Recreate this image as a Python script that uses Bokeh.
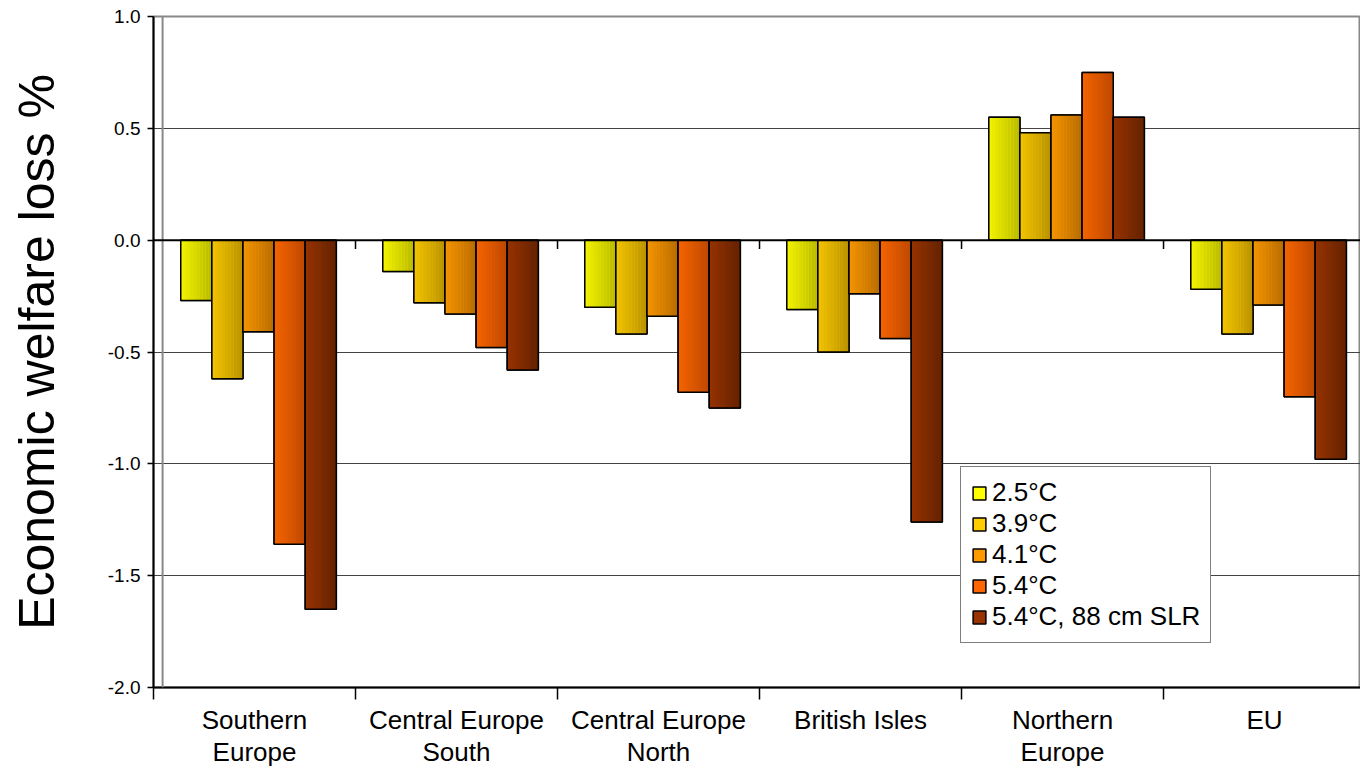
import numpy as np
from bokeh.plotting import figure
from bokeh.models import (Range1d, FixedTicker, Span, Legend, LegendItem,
                          PrintfTickFormatter, ColumnDataSource)
from bokeh.embed import file_html
from bokeh.resources import INLINE

# ---------------- data ----------------
regions = ["Southern Europe", "Central Europe South", "Central Europe North",
           "British Isles", "Northern Europe", "EU"]
region_labels = ["Southern\nEurope", "Central Europe\nSouth", "Central Europe\nNorth",
                 "British Isles", "Northern\nEurope", "EU"]
series_names = ["2.5°C", "3.9°C", "4.1°C", "5.4°C", "5.4°C, 88 cm SLR"]
v_25 = [-0.27, -0.14, -0.30, -0.31, 0.55, -0.22]
v_39 = [-0.62, -0.28, -0.42, -0.50, 0.48, -0.42]
v_41 = [-0.41, -0.33, -0.34, -0.24, 0.56, -0.29]
v_54 = [-1.36, -0.48, -0.68, -0.44, 0.75, -0.70]
v_54_slr = [-1.65, -0.58, -0.75, -1.26, 0.55, -0.98]
y_ticks = [-2.0, -1.5, -1.0, -0.5, 0.0, 0.5, 1.0]

series_values = [v_25, v_39, v_41, v_54, v_54_slr]
legend_colors = ["#FFFF00", "#FFCC00", "#FF9900", "#FF6600", "#993300"]
grad_left = [(244, 244, 0), (244, 196, 0), (244, 148, 0), (244, 100, 0), (150, 50, 0)]
grad_right = [(184, 184, 0), (184, 146, 0), (184, 108, 0), (190, 72, 0), (100, 34, 0)]

FONT = "Liberation Sans"

n_reg = len(regions)
centers = np.arange(n_reg) + 0.5
boundaries = list(np.arange(n_reg + 1).astype(float))
bar_w = 0.154
shift = 0.02

p = figure(width=1360, height=769, output_backend="svg", toolbar_location=None,
           x_range=Range1d(0, 5.975), y_range=Range1d(-2.0, 1.0),
           min_border_top=16, min_border_right=0, min_border_left=153,
           min_border_bottom=79,
           background_fill_color="white", border_fill_color="white")

p.outline_line_color = "#888888"
p.outline_line_width = 2

# grid
p.xgrid.grid_line_color = None
p.ygrid.ticker = FixedTicker(ticks=y_ticks)
p.ygrid.grid_line_color = "#444444"
p.ygrid.grid_line_width = 1

# back wall edge
p.add_layout(Span(location=0.045, dimension="height", line_color="#888888", line_width=2))

legend_items = []
n_strips = 10
for k, (vals, name) in enumerate(zip(series_values, series_names)):
    xs = centers + shift + (k - 2) * bar_w
    src = ColumnDataSource(dict(x=xs, top=vals))
    base = p.vbar(x="x", top="top", bottom=0, width=bar_w, source=src,
                  fill_color=legend_colors[k], line_color="black", line_width=1.5)
    legend_items.append(LegendItem(label=name, renderers=[base]))
    # gradient strips
    for j in range(n_strips):
        t = (j + 0.5) / n_strips
        c = tuple(int(round(grad_left[k][i] * (1 - t) + grad_right[k][i] * t)) for i in range(3))
        sx = xs - bar_w / 2 + (j + 0.5) * bar_w / n_strips
        p.vbar(x=sx, top=vals, bottom=0, width=bar_w / n_strips * 1.05,
               fill_color="#%02x%02x%02x" % c, line_color=None)
    p.vbar(x="x", top="top", bottom=0, width=bar_w, source=src,
           fill_color=None, line_color="black", line_width=1.5)

# zero line and its small ticks
p.add_layout(Span(location=0, dimension="width", line_color="black", line_width=2))
p.segment(x0=boundaries[1:], y0=[0] * n_reg, x1=boundaries[1:], y1=[-0.04] * n_reg,
          line_color="black", line_width=1.5)

# axes
xa = p.xaxis[0]
xa.ticker = FixedTicker(ticks=list(centers), minor_ticks=boundaries)
xa.major_label_overrides = {float(c): lab for c, lab in zip(centers, region_labels)}
xa.major_tick_line_color = None
xa.major_tick_out = 12
xa.major_tick_in = 0
xa.minor_tick_line_color = "black"
xa.minor_tick_out = 12
xa.minor_tick_in = 0
xa.minor_tick_line_width = 1.5
xa.axis_line_color = "black"
xa.axis_line_width = 2
xa.major_label_text_font = FONT
xa.major_label_text_font_size = "26px"
xa.major_label_text_line_height = 1.07
xa.major_label_text_color = "black"
xa.major_label_standoff = 5

ya = p.yaxis[0]
ya.ticker = FixedTicker(ticks=y_ticks)
ya.formatter = PrintfTickFormatter(format="%.1f")
ya.major_tick_out = 6
ya.major_tick_in = 0
ya.major_tick_line_color = "black"
ya.major_tick_line_width = 1.5
ya.minor_tick_line_color = None
ya.axis_line_color = "black"
ya.axis_line_width = 2
ya.major_label_text_font = FONT
ya.major_label_text_font_size = "19px"
ya.major_label_text_color = "black"
ya.major_label_standoff = 7
ya.axis_label = "Economic welfare loss %"
ya.axis_label_text_font = FONT
ya.axis_label_text_font_size = "50px"
ya.axis_label_text_font_style = "normal"
ya.axis_label_text_color = "black"
ya.axis_label_standoff = 40

legend = Legend(items=legend_items, location=(807, 44),
                label_text_font=FONT, label_text_font_size="26px",
                label_text_color="black",
                glyph_width=16, glyph_height=16, label_height=24,
                label_standoff=5, spacing=0, padding=10, margin=0,
                border_line_color="black", border_line_width=1,
                background_fill_color="white", background_fill_alpha=1)
p.add_layout(legend, "center")

open("out.html", "w").write(file_html(p, INLINE))
